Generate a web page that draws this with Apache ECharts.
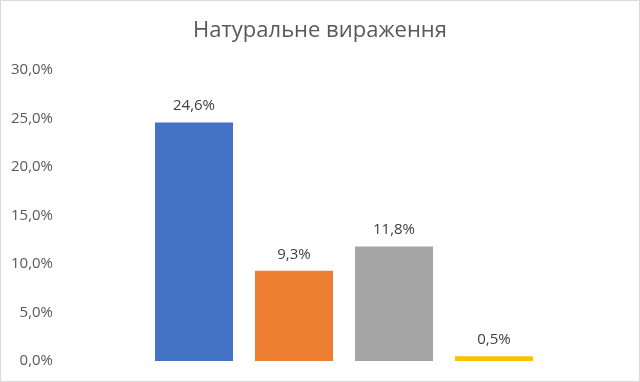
<!DOCTYPE html>
<html>
<head>
<meta charset="utf-8">
<script src="https://cdn.jsdelivr.net/npm/echarts@6/dist/echarts.min.js"></script>
<style>
html,body{margin:0;padding:0;background:#fff;}
#c{width:640px;height:382px;}
</style>
</head>
<body>
<div id="c"></div>
<script>
var categories = ['A', 'B', 'C', 'D'];
var values = [24.6, 9.3, 11.8, 0.5];
var colors = ['#4472C4', '#ED7D31', '#A5A5A5', '#FFC000'];
var yTicks = [0, 5, 10, 15, 20, 25, 30];

function fmt(v, d) { return v.toFixed(d).replace('.', ',') + '%'; }

var chart = echarts.init(document.getElementById('c'));
chart.setOption({
  animation: false,
  title: {
    text: 'Натуральне вираження',
    left: 'center',
    top: 15,
    textStyle: { fontFamily: 'Open Sans', fontSize: 22, fontWeight: 'normal', color: '#595959' }
  },
  graphic: [{
    type: 'rect',
    shape: { x: 0.5, y: 0.5, width: 639, height: 381 },
    style: { fill: 'none', stroke: '#D9D9D9', lineWidth: 1 },
    silent: true
  }],
  grid: { left: 144, right: 96, top: 70, bottom: 21 },
  xAxis: {
    type: 'category',
    data: categories,
    axisLine: { show: false },
    axisTick: { show: false },
    axisLabel: { show: false }
  },
  yAxis: {
    type: 'value',
    min: 0,
    max: 30,
    interval: 5,
    splitLine: { show: false },
    axisLine: { show: false },
    axisTick: { show: false },
    axisLabel: {
      margin: 91,
      fontFamily: 'Open Sans',
      fontSize: 15,
      color: '#595959',
      formatter: function (v) { return fmt(v, 1); }
    }
  },
  series: [{
    type: 'bar',
    barWidth: 78,
    data: values.map(function (v, i) { return { value: v, itemStyle: { color: colors[i] } }; }),
    label: {
      show: true,
      position: 'top',
      distance: 9,
      fontFamily: 'Open Sans',
      fontSize: 15,
      color: '#404040',
      formatter: function (p) { return fmt(p.value, 1); }
    }
  }]
});
</script>
</body>
</html>
